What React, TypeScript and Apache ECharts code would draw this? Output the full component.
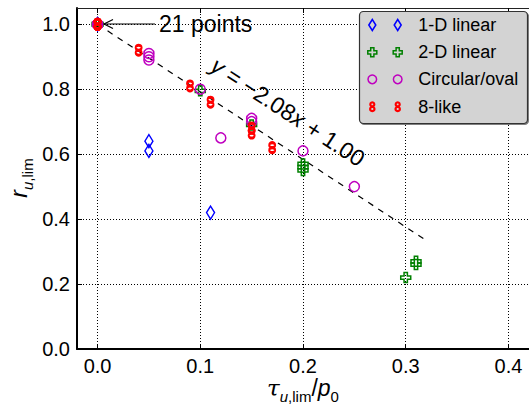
import React, { useEffect, useRef } from "react";
import * as echarts from "echarts";

const X_TICKS = [0, 0.1, 0.2, 0.3, 0.4];
const Y_TICKS = [0, 0.2, 0.4, 0.6, 0.8, 1.0];

const LINEAR_1D_X = [0, 0, 0, 0, 0, 0.05, 0.05, 0.11];
const LINEAR_1D_Y = [1.0, 1.0, 1.0, 1.0, 1.0, 0.64, 0.61, 0.42];

const LINEAR_2D_X = [0, 0, 0, 0, 0, 0.1, 0.15, 0.2, 0.2, 0.2, 0.3, 0.31, 0.31];
const LINEAR_2D_Y = [1.0, 1.0, 1.0, 1.0, 1.0, 0.795, 0.69, 0.57, 0.56, 0.55, 0.22, 0.26, 0.27];

const CIRC_X = [0, 0, 0, 0, 0, 0.05, 0.05, 0.05, 0.1, 0.12, 0.15, 0.15, 0.2, 0.25];
const CIRC_Y = [1.0, 1.0, 1.0, 1.0, 1.0, 0.91, 0.9, 0.89, 0.8, 0.65, 0.71, 0.7, 0.61, 0.5];

const EIGHT_X = [0, 0, 0, 0, 0, 0, 0.04, 0.09, 0.11, 0.15, 0.15, 0.17];
const EIGHT_Y = [1.0, 1.0, 1.0, 1.0, 1.0, 1.0, 0.92, 0.81, 0.76, 0.68, 0.665, 0.62];

const FIT_X = [0, 0.32];
const FIT_Y = [1.0, 0.334];

const SERIES_NAMES = ["1-D linear", "2-D linear", "Circular/oval", "8-like"];

const zip = (xs: number[], ys: number[]) => xs.map((x, i) => [x, ys[i]]);

const FONT = "'Liberation Sans', Arial, sans-serif";
const BLUE = "#0000ff";
const GREEN = "#008000";
const MAGENTA = "#bf00bf";
const RED = "#ff0000";

const PLUS_PATH = "path://M3,0H6V3H9V6H6V9H3V6H0V3H3Z";
const EIGHT_PATH =
  "path://M1,4a4,4 0 1,0 8,0a4,4 0 1,0 -8,0ZM1,12a4,4 0 1,0 8,0a4,4 0 1,0 -8,0Z";

function legendGraphics() {
  const boxX = 359.5;
  const boxY = 11.5;
  const rows = [25, 52.3, 79.3, 106.7];
  const mx = [372.3, 397.7];
  const els: any[] = [
    {
      type: "rect",
      shape: { x: boxX, y: boxY, width: 168, height: 112, r: 4 },
      style: {
        fill: "#d3d3d3",
        stroke: "#333",
        lineWidth: 1.2,
        shadowColor: "rgba(0,0,0,0.5)",
        shadowOffsetX: 1,
        shadowOffsetY: 1,
        shadowBlur: 1,
      },
      z: 10,
    },
  ];
  const marker = (k: number, cx: number, cy: number) => {
    if (k === 0)
      return {
        type: "polygon",
        shape: { points: [[cx, cy - 5.5], [cx + 3.5, cy], [cx, cy + 5.5], [cx - 3.5, cy]] },
        style: { fill: "none", stroke: BLUE, lineWidth: 1.5 },
        z: 11,
      };
    if (k === 1) {
      const a = 4.5, b = 1.6;
      return {
        type: "polygon",
        shape: {
          points: [
            [cx - b, cy - a], [cx + b, cy - a], [cx + b, cy - b], [cx + a, cy - b],
            [cx + a, cy + b], [cx + b, cy + b], [cx + b, cy + a], [cx - b, cy + a],
            [cx - b, cy + b], [cx - a, cy + b], [cx - a, cy - b], [cx - b, cy - b],
          ],
        },
        style: { fill: "none", stroke: GREEN, lineWidth: 1.5 },
        z: 11,
      };
    }
    if (k === 2)
      return {
        type: "circle",
        shape: { cx, cy, r: 4.3 },
        style: { fill: "none", stroke: MAGENTA, lineWidth: 1.5 },
        z: 11,
      };
    return {
      type: "group",
      z: 11,
      children: [
        { type: "circle", shape: { cx, cy: cy - 2.3, r: 2.0 }, style: { fill: "none", stroke: RED, lineWidth: 2.2 }, z: 11 },
        { type: "circle", shape: { cx, cy: cy + 2.3, r: 2.2 }, style: { fill: "none", stroke: RED, lineWidth: 2.2 }, z: 11 },
      ],
    };
  };
  rows.forEach((cy, k) => {
    els.push(marker(k, mx[0], cy));
    els.push(marker(k, mx[1], cy));
    els.push({
      type: "text",
      x: 418.3,
      y: cy,
      style: {
        text: SERIES_NAMES[k],
        font: `18px ${FONT}`,
        fill: "#000",
        textAlign: "left",
        textVerticalAlign: "middle",
      },
      z: 11,
    });
  });
  return els;
}

export default function App() {
  const ref = useRef<HTMLDivElement>(null);
  useEffect(() => {
    if (!ref.current) return;
    const chart = echarts.init(ref.current, null, { renderer: "svg" });
    const tickFmt = (v: number) => v.toFixed(1);
    const hollow = (c: string, w = 1.5) => ({ color: "rgba(0,0,0,0)", borderColor: c, borderWidth: w, opacity: 1 });
    const subRich = {
      m: { fontSize: 23, lineHeight: 28, fontFamily: FONT, fontStyle: "italic", verticalAlign: "top", color: "#000" },
      t: { fontSize: 23, lineHeight: 28, fontFamily: "'DejaVu Serif', serif", fontStyle: "italic", verticalAlign: "top", color: "#000" },
      n: { fontSize: 23, lineHeight: 28, fontFamily: FONT, verticalAlign: "top", color: "#000" },
      si: { fontSize: 15, lineHeight: 14, fontFamily: FONT, fontStyle: "italic", verticalAlign: "bottom", color: "#000" },
      sn: { fontSize: 15, lineHeight: 14, fontFamily: FONT, verticalAlign: "bottom", color: "#000" },
    };
    chart.setOption({
      animation: false,
      grid: { left: 77, right: -3, top: 8, bottom: 58, containLabel: false },
      xAxis: [
        {
          type: "value",
          min: -0.02,
          max: 0.42,
          axisLine: { show: true, onZero: false, lineStyle: { color: "#000", width: 2 } },
          axisTick: { show: true, inside: true, length: 5, customValues: X_TICKS, lineStyle: { color: "#000", width: 1 } },
          axisLabel: { customValues: X_TICKS, formatter: tickFmt, color: "#000", fontSize: 20, fontFamily: FONT, margin: 7 },
          splitLine: { show: true, lineStyle: { color: "#000", width: 1, type: [1, 2] } },
        },
        {
          type: "value",
          position: "top",
          min: -0.02,
          max: 0.42,
          axisLine: { show: true, onZero: false, lineStyle: { color: "#222", width: 1 } },
          axisTick: { show: true, inside: true, length: 5, customValues: X_TICKS, lineStyle: { color: "#000", width: 1 } },
          axisLabel: { show: false },
          splitLine: { show: false },
        },
      ],
      yAxis: [
        {
          type: "value",
          min: 0,
          max: 1.05,
          axisLine: { show: true, onZero: false, lineStyle: { color: "#000", width: 2 } },
          axisTick: { show: true, inside: true, length: 5, customValues: Y_TICKS, lineStyle: { color: "#000", width: 1 } },
          axisLabel: { customValues: Y_TICKS, formatter: tickFmt, color: "#000", fontSize: 20, fontFamily: FONT, margin: 7 },
          splitLine: { show: true, lineStyle: { color: "#000", width: 1, type: [1, 2] } },
        },
      ],
      series: [
        {
          type: "line",
          name: "fit",
          data: zip(FIT_X, FIT_Y),
          symbol: "none",
          lineStyle: { color: "#000", width: 1.2, type: [6, 6] },
          z: 2,
        },
        {
          type: "scatter",
          name: SERIES_NAMES[0],
          data: zip(LINEAR_1D_X, LINEAR_1D_Y),
          symbol: "diamond",
          symbolSize: [8, 13],
          itemStyle: hollow(BLUE),
          z: 3,
        },
        {
          type: "scatter",
          name: SERIES_NAMES[1],
          data: zip(LINEAR_2D_X, LINEAR_2D_Y),
          symbol: PLUS_PATH,
          symbolSize: 10,
          itemStyle: hollow(GREEN),
          z: 4,
        },
        {
          type: "scatter",
          name: SERIES_NAMES[2],
          data: zip(CIRC_X, CIRC_Y),
          symbol: "circle",
          symbolSize: 10,
          itemStyle: hollow(MAGENTA),
          z: 5,
        },
        {
          type: "scatter",
          name: SERIES_NAMES[3],
          data: zip(EIGHT_X, EIGHT_Y),
          symbol: EIGHT_PATH,
          symbolSize: [6, 10],
          itemStyle: hollow(RED, 2.4),
          z: 6,
        },
      ],
      graphic: [
        { type: "line", shape: { x1: 104, y1: 24, x2: 155, y2: 24 }, style: { stroke: "#000", lineWidth: 1.2 }, z: 8 },
        { type: "polyline", shape: { points: [[113, 19.5], [104, 24], [113, 28.5]] }, style: { stroke: "#000", lineWidth: 1.2, fill: "none" }, z: 8 },
        {
          type: "text",
          x: 159,
          y: 24,
          style: { text: "21 points", font: `23px ${FONT}`, fill: "#000", textAlign: "left", textVerticalAlign: "middle" },
          z: 8,
        },
        {
          type: "text",
          x: 288,
          y: 112,
          rotation: -0.58,
          style: {
            text: "{i|y} = −2.08{i|x} + 1.00",
            font: `23px ${FONT}`,
            fill: "#000",
            textAlign: "center",
            textVerticalAlign: "middle",
            rich: { i: { fontSize: 23, fontFamily: FONT, fontStyle: "italic", color: "#000" } },
          },
          z: 8,
        },
        {
          type: "text",
          x: 303,
          y: 390,
          style: {
            text: "{t|τ}{si|u}{sn|,lim}{n|/}{m|p}{sn|0}",
            rich: subRich,
            textAlign: "center",
            textVerticalAlign: "middle",
          },
          z: 8,
        },
        {
          type: "text",
          x: 21,
          y: 178,
          rotation: Math.PI / 2,
          style: {
            text: "{m|r}{si|u}{sn|,lim}",
            rich: subRich,
            textAlign: "center",
            textVerticalAlign: "middle",
          },
          z: 8,
        },
        ...legendGraphics(),
      ],
    });
    return () => chart.dispose();
  }, []);
  return <div ref={ref} style={{ width: 529, height: 407, position: "absolute", left: 0, top: 0 }} />;
}
